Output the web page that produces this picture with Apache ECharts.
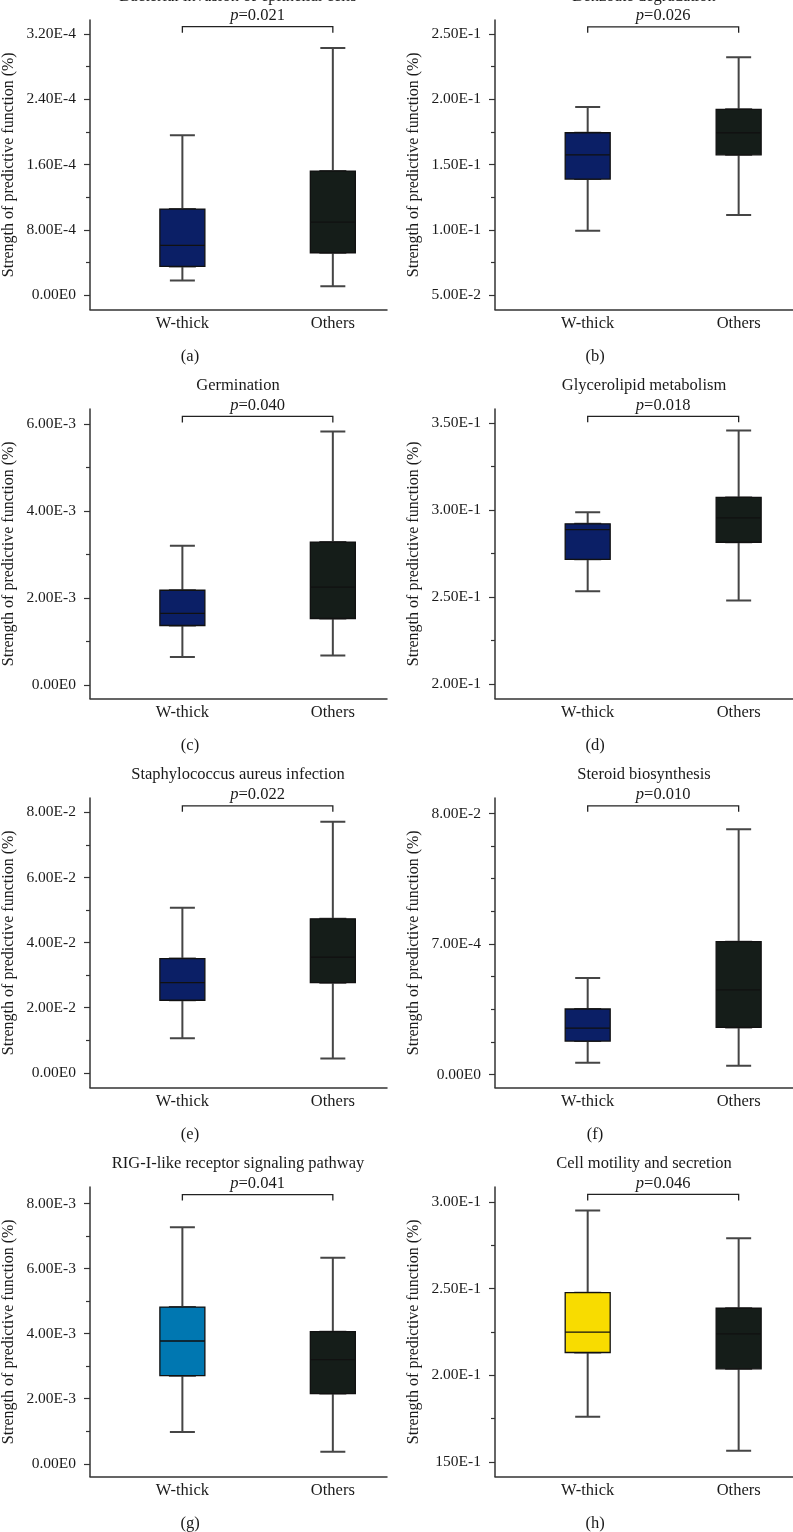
<!DOCTYPE html>
<html>
<head>
<meta charset="utf-8">
<script src="https://cdn.jsdelivr.net/npm/echarts@6/dist/echarts.min.js"></script>
<style>
  html, body { margin: 0; padding: 0; background: #fff; }
  #main { width: 793px; height: 1532px; }
</style>
</head>
<body>
<div id="main"></div>
<script>
// groups on the x axis
const groups = ['W-thick', 'Others'];

const titles = [
  'Bacterial invasion of epithelial cells',
  'Benzoate degradation',
  'Germination',
  'Glycerolipid metabolism',
  'Staphylococcus aureus infection',
  'Steroid biosynthesis',
  'RIG-I-like receptor signaling pathway',
  'Cell motility and secretion'
];
const letters = ['(a)', '(b)', '(c)', '(d)', '(e)', '(f)', '(g)', '(h)'];
const pValues = ['0.021', '0.026', '0.040', '0.018', '0.022', '0.010', '0.041', '0.046'];

// box stats: [min, Q1, median, Q3, max]
const wThickStats = [
  [0.18e-4, 0.352e-4, 0.61e-4, 1.055e-4, 1.96e-4],
  [0.0992, 0.1388, 0.1574, 0.1743, 0.194],
  [0.644e-3, 1.37e-3, 1.646e-3, 2.18e-3, 3.20e-3],
  [0.2532, 0.2716, 0.2887, 0.292, 0.2986],
  [0.01066, 0.0223, 0.0277, 0.0351, 0.0507],
  [0.63e-4, 1.79e-4, 2.49e-4, 3.51e-4, 5.17e-4],
  [0.98e-3, 2.709e-3, 3.773e-3, 4.816e-3, 7.27e-3],
  [0.1762, 0.2132, 0.2249, 0.2477, 0.295]
];
const othersStats = [
  [0.11e-4, 0.52e-4, 0.896e-4, 1.52e-4, 3.027e-4],
  [0.1113, 0.1574, 0.1743, 0.1922, 0.232],
  [0.68e-3, 1.531e-3, 2.253e-3, 3.287e-3, 5.83e-3],
  [0.2479, 0.2814, 0.2954, 0.3072, 0.3456],
  [0.0044, 0.0277, 0.0355, 0.0473, 0.0771],
  [0.47e-4, 2.52e-4, 4.54e-4, 7.12e-4, 13.16e-4],
  [0.37e-3, 2.157e-3, 3.2e-3, 4.06e-3, 6.33e-3],
  [0.1565, 0.2038, 0.2239, 0.2387, 0.2791]
];
const wThickColors = ['#0b1f66', '#0b1f66', '#0b1f66', '#0b1f66', '#0b1f66', '#0b1f66', '#0077b1', '#f8dc00'];
const othersColor = '#151d19';

// y axis ranges and ticks
const yRanges = [
  [-0.175e-4, 3.37e-4],
  [0.039, 0.2606],
  [-0.308e-3, 6.345e-3],
  [0.1916, 0.358],
  [-0.0045, 0.0844],
  [-0.70e-4, 14.83e-4],
  [-0.39e-3, 8.506e-3],
  [0.1417, 0.3086]
];
const yTicks = [
  [0, 0.8e-4, 1.6e-4, 2.4e-4, 3.2e-4],
  [0.05, 0.10, 0.15, 0.20, 0.25],
  [0, 2e-3, 4e-3, 6e-3],
  [0.20, 0.25, 0.30, 0.35],
  [0, 0.02, 0.04, 0.06, 0.08],
  [0, 7e-4, 14e-4],
  [0, 2e-3, 4e-3, 6e-3, 8e-3],
  [0.15, 0.20, 0.25, 0.30]
];
const yTickLabels = [
  ['0.00E0', '8.00E-4', '1.60E-4', '2.40E-4', '3.20E-4'],
  ['5.00E-2', '1.00E-1', '1.50E-1', '2.00E-1', '2.50E-1'],
  ['0.00E0', '2.00E-3', '4.00E-3', '6.00E-3'],
  ['2.00E-1', '2.50E-1', '3.00E-1', '3.50E-1'],
  ['0.00E0', '2.00E-2', '4.00E-2', '6.00E-2', '8.00E-2'],
  ['0.00E0', '7.00E-4', '8.00E-2'],
  ['0.00E0', '2.00E-3', '4.00E-3', '6.00E-3', '8.00E-3'],
  ['150E-1', '2.00E-1', '2.50E-1', '3.00E-1']
];
const yMinorTicks = [
  [0.4e-4, 1.2e-4, 2.0e-4, 2.8e-4],
  [0.075, 0.125, 0.175, 0.225],
  [1e-3, 3e-3, 5e-3],
  [0.225, 0.275, 0.325],
  [0.01, 0.03, 0.05, 0.07],
  [1.75e-4, 3.5e-4, 5.25e-4, 8.75e-4, 10.5e-4, 12.25e-4],
  [1e-3, 3e-3, 5e-3, 7e-3],
  [0.175, 0.225, 0.275]
];
// height of the significance bracket, in data units
const bracketLevels = [3.288e-4, 0.2554, 6.175e-3, 0.3538, 0.0820, 14.41e-4, 8.273e-3, 0.3043];

const FONT = '"Liberation Serif", "Times New Roman", serif';
const TEXT = '#1a1a1a';

const chart = echarts.init(document.getElementById('main'));

const grid = [], xAxis = [], yAxis = [], series = [], graphic = [];

for (let i = 0; i < 8; i++) {
  const col = i % 2;
  const row = Math.floor(i / 2);
  const left = 89 + col * 406;
  const top = 20 + row * 389;
  grid.push({ left: left, top: top, width: 298, height: 289.5 });

  // visible x axis + hidden twin (so whiskers and boxes are not grouped side by side)
  xAxis.push({
    type: 'value', gridIndex: i, min: 0.386, max: 2.36, position: 'bottom',
    axisLine: { onZero: false, lineStyle: { color: '#333', width: 1.5 } },
    axisTick: { show: false },
    splitLine: { show: false },
    axisLabel: {
      customValues: [1, 2],
      formatter: v => groups[Math.round(v) - 1],
      fontFamily: FONT, fontSize: 16.5, color: TEXT, margin: 6
    }
  });
  xAxis.push({ type: 'value', gridIndex: i, min: 0.386, max: 2.36, show: false });

  const ticks = yTicks[i];
  const labels = yTickLabels[i];
  yAxis.push({
    type: 'value', gridIndex: i, position: 'left', min: yRanges[i][0], max: yRanges[i][1],
    name: 'Strength of predictive function (%)',
    nameLocation: 'middle', nameRotate: 90, nameGap: 73,
    nameTextStyle: { fontFamily: FONT, fontSize: 16, color: TEXT },
    axisLine: { show: true, onZero: false, lineStyle: { color: '#333', width: 1.5 } },
    axisTick: { show: true, customValues: ticks, length: 6, lineStyle: { color: '#333', width: 1.2 } },
    splitLine: { show: false },
    axisLabel: {
      customValues: ticks,
      formatter: v => {
        let best = 0;
        ticks.forEach((t, k) => { if (Math.abs(t - v) < Math.abs(ticks[best] - v)) best = k; });
        return labels[best];
      },
      fontFamily: FONT, fontSize: 15.5, color: TEXT, margin: 14
    }
  });
  // minor ticks only
  yAxis.push({
    type: 'value', gridIndex: i, position: 'left', offset: 0, min: yRanges[i][0], max: yRanges[i][1],
    axisLine: { show: false, onZero: false },
    axisLabel: { show: false },
    splitLine: { show: false },
    axisTick: { show: true, customValues: yMinorTicks[i], length: 4, lineStyle: { color: '#333', width: 1.2 } }
  });

  // whiskers (narrow caps)
  series.push({
    type: 'boxplot', xAxisIndex: 2 * i + 1, yAxisIndex: 2 * i,
    boxWidth: [25, 25], silent: true, animation: false,
    itemStyle: { color: '#fff', borderColor: '#454545', borderWidth: 2 },
    data: [[1].concat(wThickStats[i]), [2].concat(othersStats[i])]
  });
  // boxes on top
  const w = wThickStats[i], o = othersStats[i];
  series.push({
    type: 'boxplot', xAxisIndex: 2 * i, yAxisIndex: 2 * i,
    boxWidth: [45, 45], silent: true, animation: false,
    itemStyle: { borderColor: '#111', borderWidth: 1.3 },
    data: [
      { value: [1, w[1], w[1], w[2], w[3], w[3]], itemStyle: { color: wThickColors[i] } },
      { value: [2, o[1], o[1], o[2], o[3], o[3]], itemStyle: { color: othersColor } }
    ]
  });
  // significance bracket with p value
  const p = pValues[i];
  series.push({
    type: 'custom', xAxisIndex: 2 * i, yAxisIndex: 2 * i,
    clip: false, silent: true, animation: false, z: 5,
    data: [[1, bracketLevels[i], 2]],
    renderItem: (params, api) => {
      const a = api.coord([api.value(0), api.value(1)]);
      const b = api.coord([api.value(2), api.value(1)]);
      return {
        type: 'group',
        children: [
          {
            type: 'polyline',
            shape: { points: [[a[0], a[1] + 6], [a[0], a[1]], [b[0], b[1]], [b[0], b[1] + 6]] },
            style: { stroke: '#222', lineWidth: 1.3, fill: null }
          },
          {
            type: 'text', x: (a[0] + b[0]) / 2, y: a[1] - 11,
            style: {
              text: '{i|p}=' + p,
              fontFamily: FONT, fontSize: 16.5, fill: TEXT,
              align: 'center', verticalAlign: 'middle',
              rich: { i: { fontStyle: 'italic', fontFamily: FONT, fontSize: 16.5, fill: TEXT } }
            }
          }
        ]
      };
    }
  });

  graphic.push({
    type: 'text', x: left + 149, y: top - 23, silent: true,
    style: { text: titles[i], fontFamily: FONT, fontSize: 16.5, fill: TEXT, align: 'center', verticalAlign: 'middle' }
  });
  graphic.push({
    type: 'text', x: 190 + col * 405, y: top + 336.5, silent: true,
    style: { text: letters[i], fontFamily: FONT, fontSize: 16.5, fill: TEXT, align: 'center', verticalAlign: 'middle' }
  });
}

chart.setOption({
  backgroundColor: '#fff',
  animation: false,
  grid: grid,
  xAxis: xAxis,
  yAxis: yAxis,
  series: series,
  graphic: graphic
});
</script>
</body>
</html>
